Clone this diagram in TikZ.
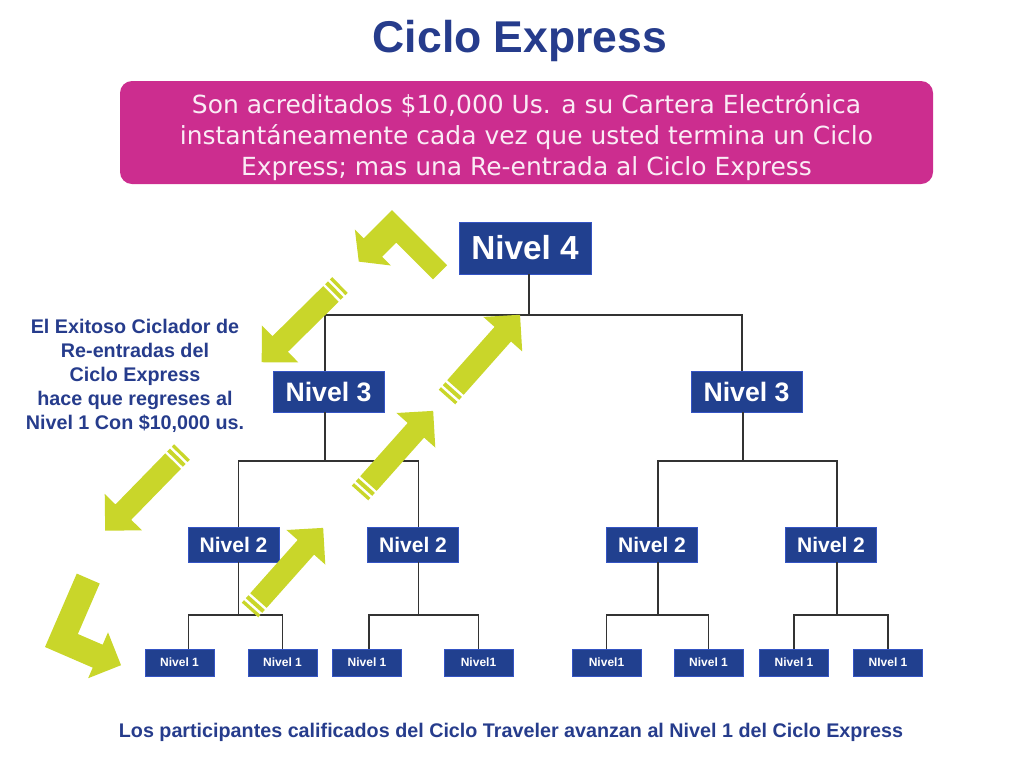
\documentclass[tikz,border=0pt]{standalone}
\usepackage{fontspec}
\setmainfont{Liberation Sans}
\newfontfamily\dejavu{DejaVu Sans}
\definecolor{nblue}{RGB}{33,64,143}
\definecolor{nedge}{RGB}{52,84,196}
\definecolor{tblue}{RGB}{38,60,140}
\definecolor{boxpink}{RGB}{204,45,143}
\definecolor{pinktxt}{RGB}{250,236,245}
\definecolor{agreen}{RGB}{201,214,42}
\tikzset{
  lvl/.style={fill=nblue, draw=nedge, line width=0.6pt, text=white, inner sep=0pt},
  lvlfour/.style={lvl, minimum width=99pt, minimum height=39pt, font=\fontsize{25}{30}\selectfont\bfseries},
  lvlthree/.style={lvl, minimum width=83.25pt, minimum height=30.75pt, font=\fontsize{20}{24}\selectfont\bfseries},
  lvltwo/.style={lvl, minimum width=68.25pt, minimum height=26.25pt, font=\fontsize{15.8}{19}\selectfont\bfseries},
  lvlone/.style={lvl, minimum width=51.75pt, minimum height=20.25pt, font=\fontsize{9}{11}\selectfont\bfseries},
  tree/.style={draw=black!80, line width=0.9pt},
  titletext/.style={text=tblue, font=\fontsize{33.4}{40}\selectfont\bfseries, inner sep=0pt},
  pinkbox/.style={fill=boxpink, draw=none, rounded corners=9pt, minimum width=609.75pt, minimum height=77.25pt},
  pinktext/.style={text=pinktxt, align=center, font=\dejavu\fontsize{18.7}{23.25}\selectfont, inner sep=0pt},
  bluetext/.style={text=tblue, align=center, font=\fontsize{14.8}{18}\selectfont\bfseries, inner sep=0pt},
  greenarrow/.style={fill=agreen, draw=none},
  striparrow/.pic={
    \fill[greenarrow] (0,-11) rectangle (3.3,11) (6,-11) rectangle (10,11)
      (12.7,-11) -- (84,-11) -- (84,-26) -- (110,0) -- (84,26) -- (84,11) -- (12.7,11) -- cycle;
  }
}
\begin{document}
\begin{tikzpicture}[x=0.75pt,y=-0.75pt]
\useasboundingbox (0,0) rectangle (1024,768);

% title and banner
\node[titletext] (title) at (520,41) {Ciclo Express};
\node[pinkbox] (info) at (526.5,132.5) {};
\node[pinktext] (infotext) at (526.5,137.5) {Son acreditados \$10,000 Us. a su Cartera Electrónica\\instantáneamente cada vez que usted termina un Ciclo\\Express; mas una Re-entrada al Ciclo Express};

% levels
\node[lvlfour] (n4) at (525,248) {Nivel 4};
\node[lvlthree] (n3a) at (328.5,391.5) {Nivel 3};
\node[lvlthree] (n3b) at (746.5,391.5) {Nivel 3};
\node[lvltwo] (n2a) at (233.5,544.5) {Nivel 2};
\node[lvltwo] (n2b) at (413,544.5) {Nivel 2};
\node[lvltwo] (n2c) at (652,544.5) {Nivel 2};
\node[lvltwo] (n2d) at (831,544.5) {Nivel 2};
\node[lvlone] (n1a) at (179.5,662.5) {Nivel 1};
\node[lvlone] (n1b) at (282.5,662.5) {Nivel 1};
\node[lvlone] (n1c) at (367,662.5) {Nivel 1};
\node[lvlone] (n1d) at (478.5,662.5) {Nivel1};
\node[lvlone] (n1e) at (606.5,662.5) {Nivel1};
\node[lvlone] (n1f) at (708.5,662.5) {Nivel 1};
\node[lvlone] (n1g) at (794,662.5) {Nivel 1};
\node[lvlone] (n1h) at (888,662.5) {NIvel 1};

% bus levels
\coordinate (b4) at (0,315);
\coordinate (b3) at (0,461);
\coordinate (b2) at (0,615);

% tree connectors
\draw[tree] ([xshift=3pt]n4.south) -- ([xshift=3pt]n4.south |- b4);
\draw[tree] ([xshift=-2.6pt]n3a.north) |- ([xshift=-3.4pt]n3b.north |- b4) -- ([xshift=-3.4pt]n3b.north);
\draw[tree] ([xshift=-2.6pt]n3a.south) -- ([xshift=-2.6pt]n3a.south |- b3);
\draw[tree] ([xshift=-2.6pt]n3b.south) -- ([xshift=-2.6pt]n3b.south |- b3);
\draw[tree] ([xshift=4pt]n2a.north) |- ([xshift=4pt]n2b.north |- b3) -- ([xshift=4pt]n2b.north);
\draw[tree] ([xshift=4.5pt]n2c.north) |- ([xshift=4.5pt]n2d.north |- b3) -- ([xshift=4.5pt]n2d.north);
\draw[tree] ([xshift=4pt]n2a.south) -- ([xshift=4pt]n2a.south |- b2);
\draw[tree] ([xshift=4pt]n2b.south) -- ([xshift=4pt]n2b.south |- b2);
\draw[tree] ([xshift=4.5pt]n2c.south) -- ([xshift=4.5pt]n2c.south |- b2);
\draw[tree] ([xshift=4.5pt]n2d.south) -- ([xshift=4.5pt]n2d.south |- b2);
\draw[tree] ([xshift=7pt]n1a.north) |- (n1b.north |- b2) -- (n1b.north);
\draw[tree] ([xshift=1.5pt]n1c.north) |- (n1d.north |- b2) -- (n1d.north);
\draw[tree] (n1e.north) |- (n1f.north |- b2) -- (n1f.north);
\draw[tree] (n1g.north) |- (n1h.north |- b2) -- (n1h.north);

% side and bottom texts
\node[bluetext] (note) at (135,376) {El Exitoso Ciclador de\\Re-entradas del\\Ciclo Express\\hace que regreses al\\Nivel 1 Con \$10,000 us.};
\node[bluetext] (foot) at (511,732) {Los participantes calificados del Ciclo Traveler avanzan al Nivel 1 del Ciclo Express};

% green arrows
\coordinate (t2) at (340,285);
\coordinate (t3) at (182,452);
\coordinate (t4) at (250,610);
\coordinate (t5) at (360,493);
\coordinate (t6) at (447,397);
\pic[rotate=-135.4] at (t2) {striparrow};
\pic[rotate=-134.3] at (t3) {striparrow};
\pic[rotate=48.3] at (t4) {striparrow};
\pic[rotate=48.3] at (t5) {striparrow};
\pic[rotate=48.4] at (t6) {striparrow};

% bent arrow near Nivel 4
\coordinate (bendtop) at (392,210);
\begin{scope}[shift={(bendtop)}, rotate=-45]
  \fill[greenarrow] (0,0) -- (78,0) -- (78,20) -- (26,20) -- (26,40) -- (38.5,40) -- (13,60) -- (-12.5,40) -- (0,40) -- cycle;
\end{scope}

% bent arrow bottom left
\coordinate (bendlow) at (45,647);
\begin{scope}[shift={(bendlow)}, rotate=66.6]
  \fill[greenarrow] (0,0) -- (80,0) -- (80,25) -- (25,25) -- (25,52) -- (38.5,52) -- (13.5,77) -- (-11.5,52) -- (0,52) -- cycle;
\end{scope}
\end{tikzpicture}
\end{document}
